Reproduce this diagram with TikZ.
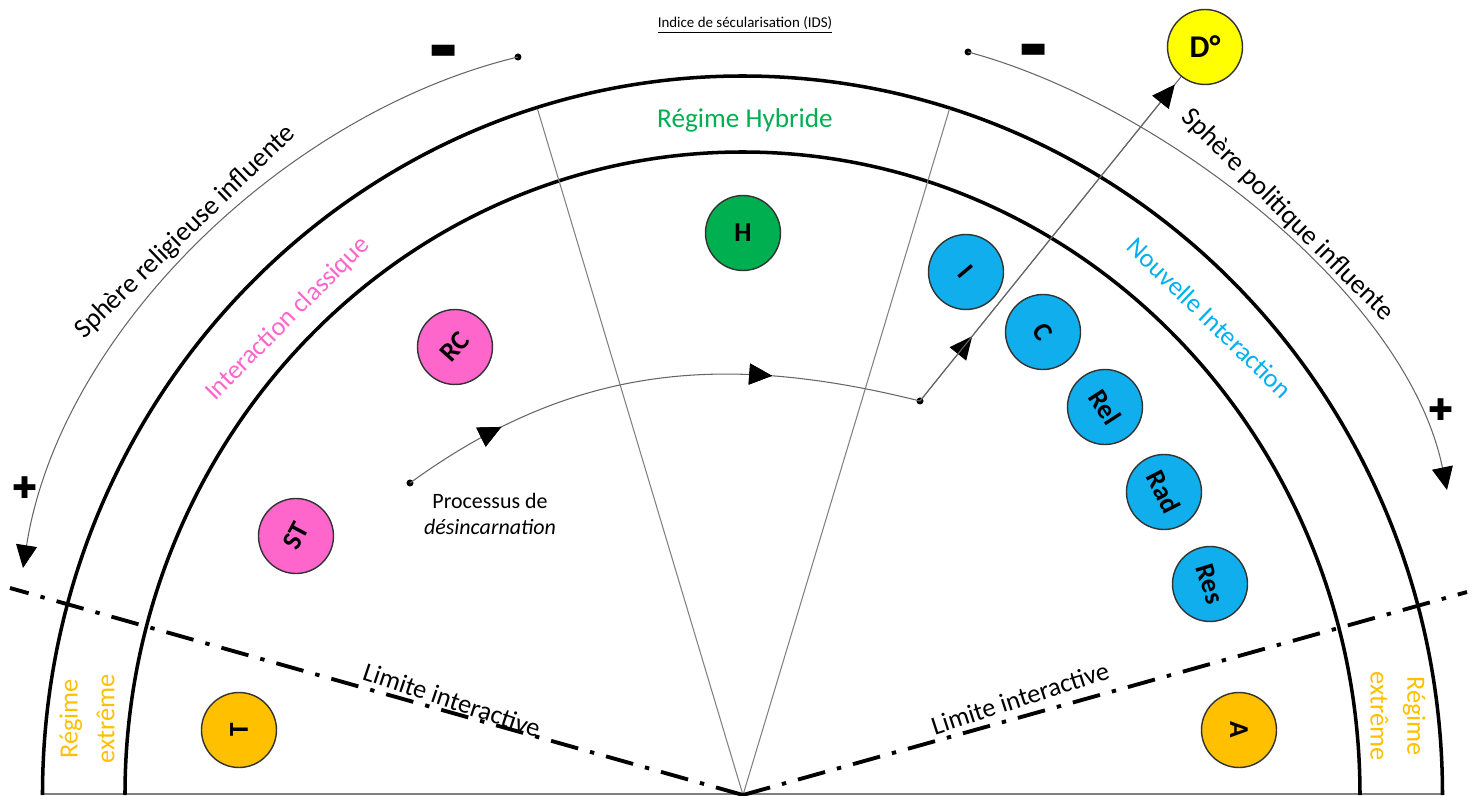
\documentclass[tikz,border=0pt]{standalone}
\usepackage{fontspec}
\setmainfont{Carlito}
\newfontfamily\symfont{DejaVu Sans}
\usetikzlibrary{arrows.meta,decorations.markings}
\definecolor{rosec}{HTML}{FF66CC}
\definecolor{vertc}{HTML}{00B050}
\definecolor{orangec}{HTML}{FFC000}
\definecolor{bleuc}{HTML}{10AEEC}
\definecolor{bleut}{HTML}{00B0F0}
\definecolor{jaunec}{HTML}{FFFF00}
\tikzset{
  tri/.style={-{Triangle[black,length=13pt,width=12pt]}},
  procline/.style={draw=black!60,line width=0.6pt,postaction={decorate},
    decoration={markings,
      mark=at position #1 with {\arrow{Triangle[black,length=13pt,width=12pt]}}}},
}
\begin{document}
\begin{tikzpicture}[x=0.02cm,y=0.02cm]
\useasboundingbox (-742.5,0) rectangle (734.5,795);
\coordinate (O) at (0.5,0);

\draw[black!50,line width=0.8pt] (-700,1) -- (700,1);
\begin{scope}[line width=2pt]
    \draw (700,0) arc[start angle=0,end angle=180,x radius=700,y radius=719];
    \draw (617.5,0) arc[start angle=0,end angle=180,x radius=617.5,y radius=643];
\end{scope}
\begin{scope}[black!50,line width=0.6pt]
    \draw (O) -- (-205,686);
    \draw (O) -- (207,686);
\end{scope}
\begin{scope}[line width=2.2pt,dash pattern=on 16pt off 7pt on 2.5pt off 7pt]
    \draw (O) -- (-732.5,207);
    \draw (O) -- (724.5,203);
\end{scope}

\begin{scope}[every node/.style={circle,draw=black!80,line width=0.8pt,minimum size=1.5cm,
      inner sep=0pt,font=\fontsize{15.5}{15.5}\selectfont\bfseries}]
    \node[fill=orangec,rotate=90] (T) at (-503.5,65) {T};
    \node[fill=orangec,rotate=-90] (A) at (496.5,65) {A};
    \node[fill=rosec,rotate=62] (ST) at (-446.5,259) {ST};
    \node[fill=rosec,rotate=48] (RC) at (-287.5,448) {RC};
    \node[fill=vertc] (H) at (0.5,562) {H};
    \node[fill=bleuc,rotate=-50] (I) at (223.5,523) {I};
    \node[fill=bleuc,rotate=-58] (C) at (300.5,463) {C};
    \node[fill=bleuc,rotate=-57] (Rel) at (362.5,388) {Rel};
    \node[fill=bleuc,rotate=-63] (Rad) at (421.5,303) {Rad};
    \node[fill=bleuc,rotate=-73] (Res) at (467.5,211) {Res};
    \node[fill=jaunec,font=\fontsize{18}{18}\selectfont\bfseries] (D) at (462.5,748) {D°};
\end{scope}

\coordinate (p0) at (-332.5,312);
\coordinate (p1) at (177.5,394);
\fill (p0) circle[radius=3.5];
\fill (p1) circle[radius=3.5];
\path[procline=0.2,procline=0.72] (p0) to[out=36,in=166] (p1);
\path[procline=0.2] (p1) -- (D);
\draw[tri,black!60,line width=0.6pt,shorten >=0.2cm] (p1) -- (D);

\coordinate (sl) at (-224.5,738);
\coordinate (tl) at (-719.5,227);
\coordinate (sp) at (225.5,743);
\coordinate (tp) at (704.5,305);
\fill (sl) circle[radius=3.5];
\fill (sp) circle[radius=3.5];
\begin{scope}[tri,black!60,line width=0.6pt]
    \draw (sl) .. controls (-456.8,682.3) and (-682.2,463.1) .. (tl);
    \draw (sp) .. controls (418.7,691.2) and (664.5,501) .. (tp);
\end{scope}

\begin{scope}[every node/.style={font=\symfont\fontsize{17}{17}\selectfont}]
    \node (moinsg) at (-298.5,743) {▬};
    \node (moinsd) at (291.5,744) {▬};
    \node (plusg) at (-717.5,307) {✚};
    \node (plusd) at (698.5,385) {✚};
\end{scope}

\node[font=\fontsize{8.5}{10}\selectfont] (ids) at (2.5,770) {\underline{Indice de sécularisation (IDS)}};
\node[font=\fontsize{15.5}{18}\selectfont,text=vertc] (hyb) at (2.5,675) {Régime Hybride};
\begin{scope}[every node/.style={font=\fontsize{15}{18}\selectfont}]
    \node[rotate=44,font=\fontsize{15.5}{18}\selectfont] (relig) at (-557,563) {Sphère religieuse influente};
    \node[rotate=-45,font=\fontsize{15.5}{18}\selectfont] (polit) at (545,580) {Sphère politique influente};
    \node[rotate=45,text=rosec] (classique) at (-454.5,476) {Interaction classique};
    \node[rotate=-44,text=bleut] (nouvelle) at (467.5,477) {Nouvelle Interaction};
    \node[rotate=-18.5] (limg) at (-290.5,95) {Limite interactive};
    \node[rotate=18] (limd) at (277.5,97) {Limite interactive};
\end{scope}
\begin{scope}[every node/.style={font=\fontsize{15}{21}\selectfont,text=orangec,align=center}]
    \node[rotate=90] (extg) at (-655.5,76) {Régime\\extrême};
    \node[rotate=-90] (extd) at (655.5,79) {Régime\\extrême};
\end{scope}
\node[font=\fontsize{12.5}{15}\selectfont,align=center] (proc) at (-252.5,281) {Processus de\\\textit{désincarnation}};
\end{tikzpicture}
\end{document}
